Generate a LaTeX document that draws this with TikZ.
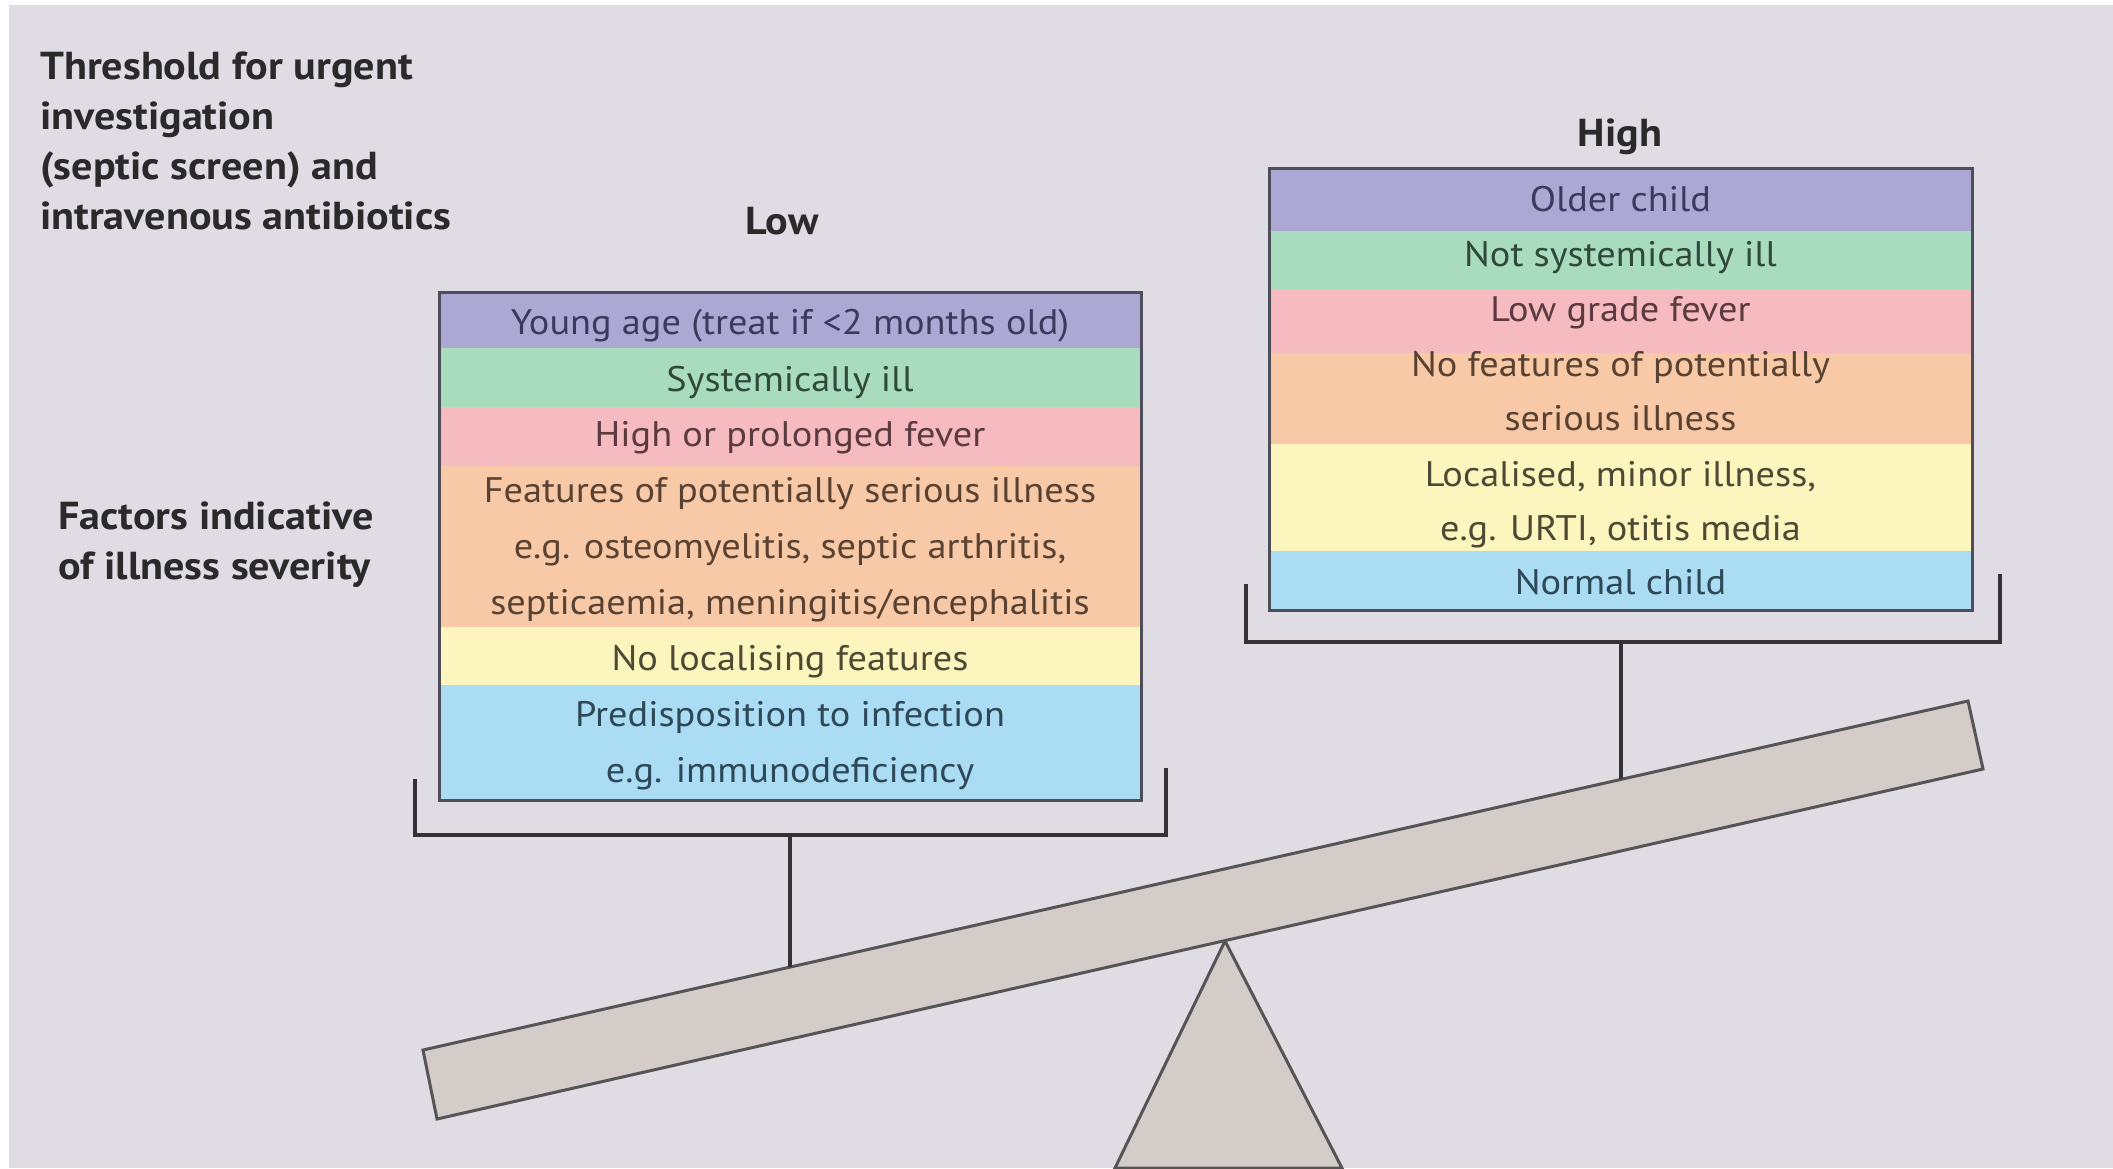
\documentclass[tikz,border=0pt]{standalone}
\usepackage{fontspec}
\setmainfont{PT Sans}[FakeStretch=1.08]
\definecolor{bgc}{HTML}{DFDCE4}
\definecolor{pFill}{HTML}{ADA7D4}\definecolor{pText}{HTML}{3B3A5E}
\definecolor{gFill}{HTML}{A9DBBF}\definecolor{gText}{HTML}{2F4A3B}
\definecolor{kFill}{HTML}{F6BBC0}\definecolor{kText}{HTML}{5B3B40}
\definecolor{oFill}{HTML}{F8C9A7}\definecolor{oText}{HTML}{5A4233}
\definecolor{yFill}{HTML}{FCF5BE}\definecolor{yText}{HTML}{4D4934}
\definecolor{bFill}{HTML}{AADCF4}\definecolor{bText}{HTML}{2E4858}
\definecolor{lineC}{HTML}{333333}
\definecolor{beamFill}{HTML}{D3CCC8}
\definecolor{beamLine}{HTML}{555555}
\definecolor{frameC}{HTML}{4E4E5A}
\definecolor{headC}{HTML}{2A2A2A}
\tikzset{
  rowtextL/.style={inner sep=0pt, align=center, font=\fontsize{35.5}{56}\selectfont},
  rowtextR/.style={inner sep=0pt, align=center, font=\fontsize{35.5}{54}\selectfont},
  frame/.style={draw=frameC, line width=3pt},
  heading/.style={inner sep=0pt, align=left, text=headC, font=\bfseries\fontsize{39}{50}\selectfont},
  label/.style={inner sep=0pt, text=headC, font=\bfseries\fontsize{39}{50}\selectfont},
  bracket/.style={draw=lineC, line width=3.2pt},
  wood/.style={fill=beamFill, draw=beamLine, line width=3pt, line join=miter}
}
\begin{document}
\begin{tikzpicture}[x=1pt,y=-1pt]
\useasboundingbox (0,0) rectangle (2113,1168);
\fill[white] (0,0) rectangle (2113,1168);
\fill[bgc] (9,5) rectangle (2113,1168);

% headings
\node[heading, anchor=west] (thr) at (40,144.5) {\strut Threshold for urgent\\\strut investigation\\\strut (septic screen) and\\\strut intravenous antibiotics};
\node[heading, anchor=west] (fac) at (58,544.5) {\strut Factors indicative\\\strut of illness severity};
\node[label] (low) at (782,221) {Low};
\node[label] (high) at (1620,136.5) {High};

% fulcrum and beam
\draw[wood] (1225,941) -- (1342,1168) -- (1115,1168) -- cycle;
\draw[wood] (423,1050) -- (1968,701) -- (1983,769) -- (437,1119) -- cycle;

% left stack: bands
\fill[pFill] (439,292) rectangle (1141,348);
\fill[gFill] (439,348) rectangle (1141,407);
\fill[kFill] (439,407) rectangle (1141,466);
\fill[oFill] (439,466) rectangle (1141,627);
\fill[yFill] (439,627) rectangle (1141,685);
\fill[bFill] (439,685) rectangle (1141,800);
\draw[frame] (439,292) rectangle (1141,800);
% left stack: texts
\node[rowtextL, text=pText] (L1) at (790,323.5) {\strut Young age (treat if <2 months old)};
\node[rowtextL, text=gText] (L2) at (790,380.2) {\strut Systemically ill};
\node[rowtextL, text=kText] (L3) at (790,435.5) {\strut High or prolonged fever};
\node[rowtextL, text=oText] (L4) at (790,547.1) {\strut Features of potentially serious illness\\\strut e.g. osteomyelitis, septic arthritis,\\\strut septicaemia, meningitis/encephalitis};
\node[rowtextL, text=yText] (L5) at (790,659.6) {\strut No localising features};
\node[rowtextL, text=bText] (L6) at (790,743) {\strut Predisposition to infection\\\strut e.g. immunodeficiency};

% right stack: bands
\fill[pFill] (1269,168) rectangle (1972,231);
\fill[gFill] (1269,231) rectangle (1972,290);
\fill[kFill] (1269,290) rectangle (1972,353);
\fill[oFill] (1269,353) rectangle (1972,444);
\fill[yFill] (1269,444) rectangle (1972,551);
\fill[bFill] (1269,551) rectangle (1972,610);
\draw[frame] (1269,168) rectangle (1972,610);
% right stack: texts
\node[rowtextR, text=pText] (R1) at (1620.5,200.3) {\strut Older child};
\node[rowtextR, text=gText] (R2) at (1620.5,255.2) {\strut Not systemically ill};
\node[rowtextR, text=kText] (R3) at (1620.5,310.4) {\strut Low grade fever};
\node[rowtextR, text=oText] (R4) at (1620.5,393) {\strut No features of potentially\\\strut serious illness};
\node[rowtextR, text=yText] (R5) at (1620.5,502.2) {\strut Localised, minor illness,\\\strut e.g. URTI, otitis media};
\node[rowtextR, text=bText] (R6) at (1620.5,583.8) {\strut Normal child};

% brackets
\coordinate (LbTL) at (415,779);
\coordinate (LbBL) at (415,835);
\coordinate (LbBR) at (1166,835);
\coordinate (LbTR) at (1166,768);
\coordinate (LbC) at (790,835);
\coordinate (LbBeam) at (790,967);
\draw[bracket] (LbTL) -- (LbBL) -- (LbBR) -- (LbTR);
\draw[bracket] (LbC) -- (LbBeam);

\coordinate (RbTL) at (1246,584);
\coordinate (RbBL) at (1246,642);
\coordinate (RbBR) at (2000,642);
\coordinate (RbTR) at (2000,574);
\coordinate (RbC) at (1621,642);
\coordinate (RbBeam) at (1621,779);
\draw[bracket] (RbTL) -- (RbBL) -- (RbBR) -- (RbTR);
\draw[bracket] (RbC) -- (RbBeam);
\end{tikzpicture}
\end{document}
